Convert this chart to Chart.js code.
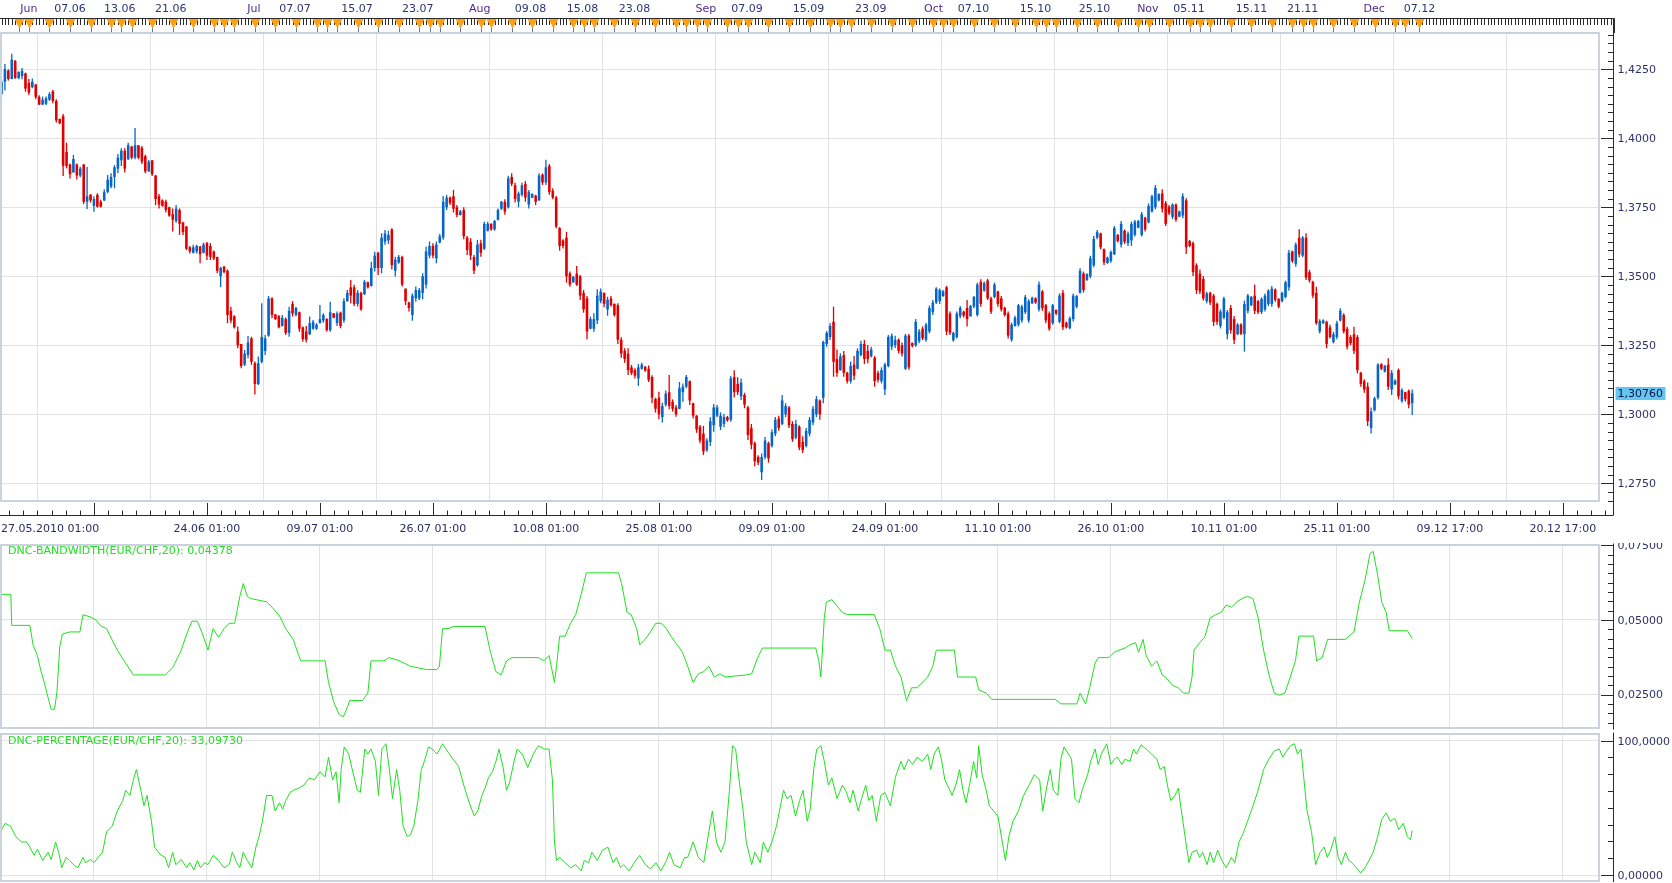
<!DOCTYPE html>
<html lang="de">
<head>
<meta charset="utf-8">
<title>EUR/CHF</title>
<script src="https://cdn.jsdelivr.net/npm/chart.js@4.4.1/dist/chart.umd.min.js"></script>
<style>
  html, body { margin: 0; padding: 0; background: #fff; }
  #wrap { position: relative; width: 1672px; height: 883px; overflow: hidden; }
  #wrap canvas { position: absolute; left: 0; }
</style>
</head>
<body>
<div id="wrap">
  <canvas id="chart-price" width="1672" height="543" style="top:0"></canvas>
  <canvas id="chart-bandwidth" width="1672" height="187" style="top:543px"></canvas>
  <canvas id="chart-percentage" width="1672" height="153" style="top:730px"></canvas>
</div>
<script>
// EUR/CHF, 8h bars, 27.05.2010 - 06.12.2010
const opens = [
  1.4160,1.4205,1.4245,1.4215,1.4280,1.4218,1.4225,1.4235,1.4200,1.4185,
  1.4195,1.4150,1.4122,1.4125,1.4140,1.4170,1.4135,1.4070,1.4080,1.3950,
  1.3905,1.3876,1.3905,1.3865,1.3905,1.3770,1.3795,1.3755,1.3795,1.3770,
  1.3775,1.3805,1.3825,1.3860,1.3890,1.3920,1.3955,1.3925,1.3970,1.3930,
  1.3975,1.3965,1.3935,1.3880,1.3920,1.3865,1.3790,1.3775,1.3770,1.3750,
  1.3725,1.3700,1.3740,1.3695,1.3680,1.3605,1.3585,1.3590,1.3608,1.3585,
  1.3620,1.3610,1.3590,1.3570,1.3500,1.3535,1.3520,1.3375,1.3355,1.3300,
  1.3255,1.3180,1.3215,1.3275,1.3185,1.3110,1.3190,1.3230,1.3285,1.3420,
  1.3362,1.3355,1.3320,1.3345,1.3295,1.3400,1.3360,1.3370,1.3315,1.3300,
  1.3290,1.3310,1.3310,1.3330,1.3340,1.3345,1.3305,1.3366,1.3330,1.3368,
  1.3340,1.3410,1.3460,1.3460,1.3400,1.3440,1.3435,1.3478,1.3465,1.3530,
  1.3585,1.3530,1.3625,1.3630,1.3670,1.3520,1.3550,1.3570,1.3455,1.3405,
  1.3360,1.3420,1.3420,1.3440,1.3470,1.3575,1.3610,1.3565,1.3622,1.3640,
  1.3750,1.3785,1.3790,1.3750,1.3722,1.3740,1.3640,1.3625,1.3570,1.3540,
  1.3620,1.3600,1.3665,1.3690,1.3670,1.3705,1.3745,1.3770,1.3750,1.3860,
  1.3830,1.3770,1.3795,1.3835,1.3760,1.3785,1.3792,1.3775,1.3868,1.3840,
  1.3900,1.3810,1.3785,1.3675,1.3630,1.3640,1.3510,1.3478,1.3510,1.3500,
  1.3440,1.3420,1.3310,1.3310,1.3340,1.3410,1.3440,1.3380,1.3420,1.3400,
  1.3395,1.3270,1.3230,1.3220,1.3170,1.3160,1.3130,1.3165,1.3172,1.3165,
  1.3135,1.3055,1.3060,1.2990,1.3035,1.3080,1.3045,1.3025,1.3020,1.3080,
  1.3100,1.3120,1.3040,1.2995,1.2955,1.2930,1.2870,1.2900,1.2960,1.2995,
  1.2955,1.2965,1.2990,1.2980,1.3135,1.3110,1.3065,1.3070,1.3025,1.2950,
  1.2895,1.2845,1.2790,1.2845,1.2895,1.2885,1.2930,1.2985,1.2965,1.3000,
  1.3025,1.2965,1.2915,1.2955,1.2900,1.2885,1.2930,1.2970,1.3000,1.3050,
  1.3060,1.3255,1.3280,1.3335,1.3200,1.3160,1.3215,1.3150,1.3120,1.3180,
  1.3165,1.3215,1.3255,1.3230,1.3210,1.3205,1.3150,1.3120,1.3090,1.3175,
  1.3245,1.3250,1.3270,1.3250,1.3165,1.3285,1.3258,1.3250,1.3265,1.3310,
  1.3270,1.3300,1.3370,1.3405,1.3410,1.3428,1.3460,1.3365,1.3268,1.3280,
  1.3355,1.3372,1.3385,1.3355,1.3390,1.3360,1.3480,1.3448,1.3485,1.3420,
  1.3425,1.3445,1.3420,1.3385,1.3365,1.3270,1.3320,1.3325,1.3340,1.3370,
  1.3340,1.3402,1.3420,1.3380,1.3445,1.3395,1.3365,1.3330,1.3378,1.3335,
  1.3440,1.3332,1.3312,1.3345,1.3390,1.3440,1.3510,1.3486,1.3500,1.3540,
  1.3640,1.3655,1.3598,1.3548,1.3555,1.3580,1.3650,1.3615,1.3665,1.3620,
  1.3630,1.3650,1.3676,1.3650,1.3712,1.3695,1.3735,1.3750,1.3775,1.3800,
  1.3765,1.3752,1.3715,1.3760,1.3716,1.3720,1.3775,1.3628,1.3620,1.3540,
  1.3510,1.3490,1.3410,1.3440,1.3430,1.3400,1.3320,1.3350,1.3290,1.3385,
  1.3345,1.3290,1.3325,1.3290,1.3375,1.3395,1.3430,1.3410,1.3370,1.3380,
  1.3400,1.3400,1.3452,1.3418,1.3410,1.3425,1.3460,1.3590,1.3545,1.3640,
  1.3575,1.3640,1.3515,1.3480,1.3440,1.3300,1.3330,1.3335,1.3315,1.3262,
  1.3280,1.3340,1.3360,1.3310,1.3280,1.3290,1.3280,1.3150,1.3120,1.3100,
  1.2950,1.3015,1.3060,1.3182,1.3155,1.3180,1.3090,1.3108,1.3160,1.3048,
  1.3080,1.3085,1.3040
];
const highs = [
  1.4214,1.4269,1.4250,1.4306,1.4284,1.4243,1.4255,1.4238,1.4215,1.4217,
  1.4197,1.4156,1.4151,1.4151,1.4167,1.4175,1.4141,1.4072,1.4088,1.3984,
  1.3909,1.3940,1.3909,1.3897,1.3907,1.3896,1.3798,1.3789,1.3801,1.3777,
  1.3815,1.3867,1.3873,1.3903,1.3943,1.3964,1.3964,1.3984,1.3972,1.4037,
  1.3975,1.3972,1.3940,1.3921,1.3921,1.3867,1.3798,1.3779,1.3777,1.3752,
  1.3746,1.3758,1.3746,1.3698,1.3682,1.3610,1.3614,1.3614,1.3610,1.3622,
  1.3624,1.3620,1.3593,1.3571,1.3535,1.3537,1.3525,1.3390,1.3359,1.3318,
  1.3255,1.3233,1.3284,1.3281,1.3191,1.3209,1.3402,1.3287,1.3429,1.3424,
  1.3363,1.3360,1.3360,1.3351,1.3390,1.3410,1.3390,1.3372,1.3318,1.3320,
  1.3354,1.3342,1.3330,1.3396,1.3366,1.3348,1.3408,1.3366,1.3372,1.3372,
  1.3420,1.3450,1.3487,1.3469,1.3450,1.3444,1.3487,1.3481,1.3553,1.3589,
  1.3589,1.3656,1.3668,1.3665,1.3674,1.3571,1.3577,1.3574,1.3456,1.3408,
  1.3438,1.3463,1.3458,1.3511,1.3607,1.3626,1.3620,1.3626,1.3653,1.3791,
  1.3795,1.3789,1.3813,1.3758,1.3740,1.3750,1.3646,1.3638,1.3577,1.3632,
  1.3632,1.3698,1.3698,1.3692,1.3704,1.3746,1.3773,1.3779,1.3864,1.3873,
  1.3839,1.3807,1.3839,1.3845,1.3813,1.3801,1.3795,1.3873,1.3873,1.3922,
  1.3907,1.3819,1.3791,1.3678,1.3634,1.3661,1.3517,1.3501,1.3537,1.3505,
  1.3450,1.3429,1.3354,1.3366,1.3453,1.3456,1.3441,1.3426,1.3429,1.3402,
  1.3402,1.3279,1.3239,1.3239,1.3179,1.3167,1.3182,1.3187,1.3175,1.3177,
  1.3141,1.3060,1.3082,1.3042,1.3086,1.3142,1.3054,1.3034,1.3117,1.3112,
  1.3142,1.3122,1.3042,1.2997,1.2961,1.2958,1.2913,1.2989,1.3037,1.3034,
  1.3007,1.3001,1.2994,1.3139,1.3160,1.3134,1.3130,1.3078,1.3030,1.2965,
  1.2901,1.2852,1.2858,1.2918,1.2901,1.2945,1.2990,1.2995,1.3070,1.3040,
  1.3030,1.2975,1.2980,1.2960,1.2920,1.2950,1.2990,1.3030,1.3066,1.3054,
  1.3266,1.3302,1.3330,1.3390,1.3235,1.3221,1.3229,1.3154,1.3191,1.3211,
  1.3239,1.3266,1.3269,1.3251,1.3245,1.3211,1.3158,1.3170,1.3187,1.3287,
  1.3293,1.3285,1.3275,1.3260,1.3291,1.3291,1.3260,1.3345,1.3309,1.3318,
  1.3332,1.3394,1.3414,1.3460,1.3456,1.3450,1.3465,1.3372,1.3299,1.3372,
  1.3392,1.3375,1.3414,1.3396,1.3429,1.3477,1.3489,1.3481,1.3491,1.3426,
  1.3477,1.3448,1.3429,1.3390,1.3372,1.3332,1.3357,1.3400,1.3397,1.3432,
  1.3417,1.3426,1.3424,1.3481,1.3450,1.3400,1.3372,1.3400,1.3380,1.3438,
  1.3450,1.3336,1.3354,1.3438,1.3432,1.3529,1.3517,1.3511,1.3574,1.3646,
  1.3668,1.3658,1.3601,1.3571,1.3593,1.3682,1.3653,1.3700,1.3670,1.3662,
  1.3698,1.3704,1.3704,1.3733,1.3716,1.3764,1.3795,1.3831,1.3801,1.3815,
  1.3773,1.3758,1.3764,1.3764,1.3738,1.3801,1.3783,1.3632,1.3626,1.3547,
  1.3525,1.3501,1.3444,1.3444,1.3436,1.3405,1.3380,1.3426,1.3378,1.3396,
  1.3356,1.3330,1.3330,1.3412,1.3436,1.3429,1.3469,1.3414,1.3424,1.3438,
  1.3453,1.3465,1.3456,1.3420,1.3444,1.3484,1.3595,1.3593,1.3622,1.3670,
  1.3646,1.3656,1.3523,1.3484,1.3462,1.3344,1.3344,1.3339,1.3324,1.3299,
  1.3339,1.3384,1.3366,1.3317,1.3287,1.3317,1.3287,1.3154,1.3127,1.3115,
  1.3025,1.3064,1.3185,1.3185,1.3179,1.3203,1.3160,1.3127,1.3166,1.3094,
  1.3082,1.3090,1.3090
];
const lows = [
  1.4149,1.4173,1.4209,1.4214,1.4216,1.4214,1.4214,1.4169,1.4157,1.4181,
  1.4141,1.4121,1.4121,1.4121,1.4136,1.4127,1.4057,1.4051,1.3863,1.3891,
  1.3854,1.3876,1.3851,1.3859,1.3762,1.3744,1.3767,1.3734,1.3749,1.3749,
  1.3773,1.3801,1.3819,1.3819,1.3873,1.3900,1.3876,1.3921,1.3924,1.3924,
  1.3924,1.3907,1.3873,1.3879,1.3863,1.3758,1.3746,1.3752,1.3731,1.3716,
  1.3662,1.3694,1.3650,1.3650,1.3595,1.3583,1.3583,1.3583,1.3547,1.3583,
  1.3559,1.3559,1.3559,1.3511,1.3461,1.3511,1.3330,1.3330,1.3311,1.3239,
  1.3167,1.3175,1.3203,1.3179,1.3072,1.3106,1.3185,1.3215,1.3281,1.3348,
  1.3342,1.3312,1.3318,1.3287,1.3281,1.3354,1.3354,1.3299,1.3263,1.3260,
  1.3287,1.3306,1.3306,1.3330,1.3332,1.3299,1.3299,1.3348,1.3320,1.3312,
  1.3332,1.3408,1.3402,1.3392,1.3390,1.3375,1.3432,1.3456,1.3463,1.3517,
  1.3505,1.3511,1.3614,1.3617,1.3525,1.3499,1.3545,1.3463,1.3396,1.3372,
  1.3339,1.3408,1.3414,1.3417,1.3456,1.3565,1.3565,1.3547,1.3620,1.3632,
  1.3740,1.3758,1.3731,1.3714,1.3720,1.3634,1.3577,1.3559,1.3508,1.3535,
  1.3571,1.3595,1.3662,1.3665,1.3665,1.3702,1.3740,1.3723,1.3746,1.3827,
  1.3767,1.3750,1.3789,1.3770,1.3746,1.3783,1.3758,1.3774,1.3831,1.3831,
  1.3795,1.3779,1.3674,1.3593,1.3601,1.3477,1.3462,1.3477,1.3465,1.3414,
  1.3368,1.3272,1.3308,1.3299,1.3327,1.3402,1.3388,1.3357,1.3390,1.3354,
  1.3255,1.3205,1.3187,1.3142,1.3142,1.3130,1.3103,1.3161,1.3154,1.3117,
  1.3040,1.3006,1.2982,1.2970,1.3028,1.3018,1.3010,1.2991,1.3018,1.3045,
  1.3094,1.3034,1.2985,1.2933,1.2895,1.2852,1.2864,1.2885,1.2937,1.2989,
  1.2943,1.2953,1.2973,1.2973,1.3061,1.3070,1.3052,1.3022,1.2907,1.2873,
  1.2812,1.2816,1.2762,1.2837,1.2825,1.2880,1.2920,1.2940,1.2960,1.2990,
  1.2950,1.2900,1.2910,1.2870,1.2860,1.2880,1.2920,1.2960,1.2990,1.2980,
  1.3040,1.3245,1.3269,1.3136,1.3136,1.3158,1.3136,1.3112,1.3112,1.3124,
  1.3163,1.3209,1.3182,1.3185,1.3206,1.3100,1.3115,1.3112,1.3070,1.3170,
  1.3233,1.3240,1.3221,1.3209,1.3161,1.3161,1.3243,1.3245,1.3257,1.3269,
  1.3263,1.3293,1.3360,1.3400,1.3400,1.3426,1.3287,1.3287,1.3263,1.3275,
  1.3348,1.3351,1.3318,1.3354,1.3384,1.3354,1.3390,1.3444,1.3414,1.3363,
  1.3420,1.3390,1.3372,1.3354,1.3275,1.3263,1.3318,1.3318,1.3332,1.3363,
  1.3332,1.3400,1.3400,1.3372,1.3375,1.3330,1.3303,1.3324,1.3360,1.3330,
  1.3305,1.3311,1.3308,1.3336,1.3384,1.3438,1.3441,1.3484,1.3493,1.3533,
  1.3634,1.3598,1.3541,1.3545,1.3549,1.3577,1.3622,1.3604,1.3617,1.3610,
  1.3610,1.3644,1.3674,1.3644,1.3662,1.3692,1.3731,1.3743,1.3771,1.3731,
  1.3682,1.3722,1.3707,1.3698,1.3714,1.3710,1.3581,1.3605,1.3501,1.3436,
  1.3436,1.3412,1.3402,1.3396,1.3320,1.3324,1.3311,1.3344,1.3272,1.3293,
  1.3255,1.3287,1.3287,1.3227,1.3366,1.3392,1.3363,1.3363,1.3363,1.3372,
  1.3392,1.3390,1.3408,1.3384,1.3405,1.3420,1.3448,1.3549,1.3535,1.3569,
  1.3569,1.3487,1.3477,1.3420,1.3324,1.3293,1.3327,1.3239,1.3275,1.3257,
  1.3272,1.3336,1.3293,1.3235,1.3251,1.3218,1.3148,1.3100,1.3078,1.2958,
  1.2930,1.3010,1.3054,1.3160,1.3151,1.3088,1.3070,1.3106,1.3054,1.3042,
  1.3046,1.3022,1.2997
];
const closes = [
  1.4205,1.4250,1.4215,1.4285,1.4218,1.4240,1.4245,1.4180,1.4165,1.4205,
  1.4150,1.4122,1.4140,1.4145,1.4160,1.4135,1.4065,1.4055,1.3900,1.3900,
  1.3870,1.3925,1.3865,1.3890,1.3770,1.3790,1.3775,1.3780,1.3752,1.3752,
  1.3805,1.3850,1.3860,1.3895,1.3930,1.3955,1.3890,1.3975,1.3930,1.3975,
  1.3930,1.3915,1.3880,1.3915,1.3870,1.3780,1.3760,1.3755,1.3740,1.3720,
  1.3705,1.3745,1.3690,1.3660,1.3600,1.3590,1.3605,1.3610,1.3580,1.3615,
  1.3575,1.3570,1.3565,1.3520,1.3530,1.3515,1.3360,1.3340,1.3315,1.3250,
  1.3175,1.3220,1.3260,1.3190,1.3110,1.3185,1.3280,1.3275,1.3420,1.3360,
  1.3345,1.3315,1.3350,1.3295,1.3375,1.3365,1.3385,1.3310,1.3272,1.3270,
  1.3330,1.3335,1.3325,1.3345,1.3360,1.3305,1.3370,1.3350,1.3365,1.3320,
  1.3410,1.3440,1.3430,1.3400,1.3440,1.3380,1.3480,1.3460,1.3530,1.3575,
  1.3530,1.3640,1.3655,1.3650,1.3540,1.3560,1.3570,1.3470,1.3410,1.3385,
  1.3430,1.3450,1.3450,1.3500,1.3590,1.3610,1.3575,1.3615,1.3645,1.3770,
  1.3785,1.3765,1.3745,1.3722,1.3735,1.3645,1.3595,1.3575,1.3520,1.3615,
  1.3585,1.3690,1.3690,1.3670,1.3700,1.3740,1.3770,1.3735,1.3855,1.3835,
  1.3780,1.3800,1.3830,1.3785,1.3805,1.3798,1.3770,1.3865,1.3840,1.3895,
  1.3805,1.3785,1.3680,1.3610,1.3610,1.3500,1.3470,1.3498,1.3470,1.3430,
  1.3380,1.3300,1.3345,1.3345,1.3430,1.3445,1.3400,1.3415,1.3395,1.3360,
  1.3270,1.3220,1.3200,1.3160,1.3150,1.3140,1.3170,1.3180,1.3158,1.3125,
  1.3060,1.3020,1.3000,1.3030,1.3075,1.3030,1.3020,1.3000,1.3095,1.3100,
  1.3135,1.3050,1.2995,1.2945,1.2905,1.2865,1.2905,1.2975,1.3025,1.3025,
  1.2995,1.2990,1.2978,1.3130,1.3080,1.3080,1.3115,1.3035,1.2925,1.2890,
  1.2830,1.2825,1.2845,1.2905,1.2840,1.2935,1.2980,1.2950,1.3050,1.3030,
  1.2960,1.2910,1.2965,1.2880,1.2870,1.2940,1.2980,1.3020,1.3055,1.3000,
  1.3262,1.3295,1.3320,1.3190,1.3150,1.3210,1.3150,1.3120,1.3175,1.3140,
  1.3230,1.3255,1.3200,1.3200,1.3235,1.3120,1.3125,1.3160,1.3180,1.3280,
  1.3285,1.3270,1.3230,1.3220,1.3285,1.3170,1.3248,1.3335,1.3300,1.3275,
  1.3325,1.3385,1.3405,1.3455,1.3450,1.3445,1.3300,1.3295,1.3295,1.3365,
  1.3385,1.3358,1.3345,1.3392,1.3425,1.3470,1.3400,1.3475,1.3420,1.3372,
  1.3470,1.3400,1.3380,1.3360,1.3285,1.3325,1.3350,1.3395,1.3390,1.3425,
  1.3410,1.3422,1.3405,1.3470,1.3385,1.3340,1.3310,1.3395,1.3365,1.3430,
  1.3315,1.3315,1.3348,1.3430,1.3428,1.3520,1.3450,1.3508,1.3565,1.3635,
  1.3660,1.3605,1.3550,1.3568,1.3588,1.3675,1.3628,1.3690,1.3625,1.3655,
  1.3690,1.3698,1.3700,1.3725,1.3670,1.3755,1.3790,1.3820,1.3798,1.3745,
  1.3690,1.3728,1.3760,1.3705,1.3735,1.3790,1.3605,1.3610,1.3515,1.3450,
  1.3445,1.3420,1.3438,1.3405,1.3335,1.3335,1.3372,1.3420,1.3370,1.3305,
  1.3270,1.3325,1.3292,1.3400,1.3430,1.3425,1.3375,1.3370,1.3418,1.3430,
  1.3448,1.3455,1.3415,1.3390,1.3440,1.3478,1.3585,1.3555,1.3615,1.3580,
  1.3640,1.3495,1.3485,1.3430,1.3330,1.3338,1.3340,1.3255,1.3280,1.3290,
  1.3330,1.3375,1.3300,1.3245,1.3258,1.3230,1.3160,1.3110,1.3090,1.2975,
  1.3010,1.3058,1.3180,1.3165,1.3175,1.3100,1.3150,1.3122,1.3065,1.3088,
  1.3055,1.3035,1.3076
];

// axis ticks and labels (bar index positions)
const priceTicks = [1.275, 1.300, 1.325, 1.350, 1.375, 1.400, 1.425];
const bandwidthTicks = [0.025, 0.050, 0.075];
const bandwidthTickLabels = ['0,02500', '0,05000', '0,07500'];
const percentTicks = [0, 100];
const percentTickLabels = ['0,00000', '100,0000'];
const gridBars = [27, 60, 93, 126, 159, 192, 225, 258, 291, 324, 357, 390, 423, 456];
const dateLabelBars = [0, 60, 93, 126, 159, 192, 225, 258, 291, 324, 357, 390, 423, 456];
const dateLabels = ['27.05.2010 01:00', '24.06 01:00', '09.07 01:00', '26.07 01:00', '10.08 01:00',
  '25.08 01:00', '09.09 01:00', '24.09 01:00', '11.10 01:00', '26.10 01:00', '10.11 01:00',
  '25.11 01:00', '09.12 17:00', '20.12 17:00'];
const topLabels = ['Jun', '07.06', '13.06', '21.06', 'Jul', '07.07', '15.07', '23.07', 'Aug', '09.08',
  '15.08', '23.08', 'Sep', '07.09', '15.09', '23.09', 'Oct', '07.10', '15.10', '25.10', 'Nov', '05.11',
  '15.11', '21.11', 'Dec', '07.12'];
const topLabelBars = [8, 20, 34.5, 49.4, 73.7, 85.7, 103.8, 121.6, 139.7, 154.5, 169.7, 184.9, 205.7,
  217.7, 235.7, 253.9, 272.2, 283.9, 302, 319.2, 334.8, 346.8, 365.1, 380, 400.9, 414.1];
const eventBars = [5, 8, 14, 20, 26, 32, 35, 38, 44, 50, 56, 62, 65, 68, 74, 80, 86, 92, 95, 98, 104,
  110, 116, 122, 125, 128, 134, 140, 143, 149, 155, 161, 167, 170, 173, 179, 185, 191, 197, 200, 203,
  206, 212, 215, 218, 224, 230, 236, 242, 245, 248, 254, 260, 266, 272, 275, 278, 284, 290, 296, 302,
  305, 308, 314, 320, 326, 332, 335, 341, 347, 350, 353, 359, 365, 371, 377, 380, 383, 389, 395, 401,
  407, 410, 414];

// indicators
const bandwidthTitle = 'DNC-BANDWIDTH(EUR/CHF,20): 0,04378';
const bwBars = [0, 2.7, 3, 8.3, 9.2, 10.5, 11.5, 12.5, 13.6, 14.5, 15.5, 16.2, 17, 17.8, 20, 22.9, 23.8,
  26, 27.6, 29, 30.7, 32, 33.8, 36, 38.5, 47.8, 50, 52.5, 54.1, 55.6, 57.2, 58.7, 60.3, 61.8, 63.4, 65,
  66.5, 68.1, 69.6, 70.6, 71.8, 72.7, 77.4, 79, 81.2, 83, 85.2, 86.8, 87.4, 94.5, 95.5, 97, 98.6, 99.8,
  100.8, 101.7, 105.4, 107, 107.9, 111.7, 113.2, 116.3, 119.4, 124.1, 127.2, 127.9, 128.8, 130.4, 131.9,
  141.2, 142.8, 144.4, 145.9, 147.5, 149, 156.8, 158.4, 159.9, 161.5, 162.1, 163, 164.6, 166.2, 167.7,
  169.3, 170.8, 180.2, 181.1, 182.7, 183.9, 185.5, 186.4, 188, 189.5, 191.1, 192.6, 194.2, 195.7, 198.9,
  200.4, 202, 203.5, 205.1, 206.6, 208.2, 209.8, 211.3, 217.5, 219.1, 220.7, 222.2, 237.8, 238.7, 239.3,
  240.3, 240.9, 242.5, 245.6, 247.1, 254.9, 256.5, 258, 259.6, 261.1, 262.7, 264.3, 265.8, 267.4, 268.9,
  270.5, 272, 273, 278.3, 279.2, 284.5, 285.4, 287.6, 289.2, 307.8, 309.4, 314.1, 315, 316.6, 317.8,
  319.4, 320.3, 323.4, 325, 326.5, 328.1, 329.6, 331.2, 332.1, 333.4, 334.3, 335.9, 337.4, 339, 340.5,
  342.1, 343.7, 345.2, 346.8, 347.7, 348.3, 349.9, 351.4, 353, 354.6, 356.1, 357.7, 359.2, 360.8, 362.3,
  363.9, 365.5, 367, 368.6, 370.1, 371.7, 373.2, 374.8, 376.4, 377.9, 378.9, 383.2, 384.1, 385.7, 387.3,
  392.5, 393.5, 395, 396.6, 398.2, 399.7, 400.6, 401.9, 403.1, 404.4, 405.3, 410.6, 412];
const bwValues = [0.0586, 0.0586, 0.0482, 0.0482, 0.0417, 0.0380, 0.0330, 0.0290, 0.0240, 0.0201, 0.0201,
  0.0260, 0.0410, 0.0453, 0.0460, 0.0460, 0.0518, 0.0510, 0.0500, 0.0480, 0.0471, 0.0440, 0.0400, 0.0360,
  0.0316, 0.0316, 0.0340, 0.0399, 0.0453, 0.0496, 0.0496, 0.0453, 0.0399, 0.0471, 0.0442, 0.0471, 0.0489,
  0.0489, 0.0579, 0.0622, 0.0579, 0.0572, 0.0561, 0.0543, 0.0514, 0.0471, 0.0435, 0.0381, 0.0363, 0.0363,
  0.0291, 0.0226, 0.0183, 0.0176, 0.0201, 0.0230, 0.0230, 0.0255, 0.0363, 0.0363, 0.0374, 0.0363, 0.0345,
  0.0334, 0.0334, 0.0345, 0.0471, 0.0471, 0.0478, 0.0478, 0.0392, 0.0327, 0.0316, 0.0363, 0.0374, 0.0374,
  0.0363, 0.0381, 0.0291, 0.0345, 0.0446, 0.0446, 0.0489, 0.0518, 0.0586, 0.0658, 0.0658, 0.0622, 0.0525,
  0.0518, 0.0471, 0.0417, 0.0435, 0.0460, 0.0489, 0.0489, 0.0471, 0.0442, 0.0392, 0.0345, 0.0291, 0.0320,
  0.0327, 0.0345, 0.0309, 0.0320, 0.0309, 0.0316, 0.0320, 0.0370, 0.0406, 0.0406, 0.0363, 0.0309, 0.0507,
  0.0561, 0.0568, 0.0525, 0.0518, 0.0518, 0.0471, 0.0399, 0.0399, 0.0345, 0.0309, 0.0230, 0.0273, 0.0273,
  0.0291, 0.0309, 0.0345, 0.0399, 0.0399, 0.0309, 0.0309, 0.0266, 0.0255, 0.0234, 0.0234, 0.0219, 0.0219,
  0.0255, 0.0219, 0.0273, 0.0356, 0.0374, 0.0374, 0.0392, 0.0399, 0.0406, 0.0417, 0.0424, 0.0392, 0.0435,
  0.0381, 0.0345, 0.0363, 0.0316, 0.0302, 0.0280, 0.0273, 0.0255, 0.0255, 0.0309, 0.0399, 0.0424, 0.0442,
  0.0507, 0.0518, 0.0525, 0.0550, 0.0543, 0.0561, 0.0572, 0.0579, 0.0572, 0.0507, 0.0399, 0.0320, 0.0255,
  0.0248, 0.0255, 0.0309, 0.0363, 0.0446, 0.0446, 0.0363, 0.0374, 0.0435, 0.0435, 0.0446, 0.0460, 0.0561,
  0.0633, 0.0723, 0.0730, 0.0651, 0.0561, 0.0525, 0.0464, 0.0464, 0.0438];

const percentTitle = 'DNC-PERCENTAGE(EUR/CHF,20): 33,09730';
const pctBars = [0, 1.1, 2.7, 4.2, 5.8, 7.3, 8.3, 9.5, 10.5, 12, 13.6, 14.5, 15.8, 16.7, 17.6, 18.9, 19.8,
  21.4, 22.3, 23.8, 24.5, 26, 27, 28.2, 29.5, 30.7, 32.3, 33.8, 35.4, 36.3, 37.5, 38.5, 39.4, 40.7, 41.6,
  42.5, 43.8, 44.7, 46.3, 47.8, 48.8, 50, 50.9, 52.5, 54.1, 55, 56.2, 57.2, 58.1, 59.3, 60.3, 61.8, 63.4,
  65, 66.5, 67.4, 68.7, 69.6, 70.6, 71.8, 73.1, 74.3, 75.2, 76.2, 77.4, 79, 79.9, 81.2, 82.1, 83, 84.3,
  85.2, 86.8, 88.3, 89.9, 91.4, 93, 94.5, 95.5, 96.7, 97.7, 98.6, 99.2, 100.1, 101.4, 102.3, 103.9, 104.8,
  106.1, 107, 107.9, 109.2, 110.1, 111.1, 112.3, 113.2, 114.2, 115.4, 116.3, 117.3, 118.5, 119.4, 120.4,
  121.6, 122.6, 123.5, 124.7, 125.7, 127.2, 128.8, 130.4, 131.9, 133.5, 135, 136.6, 138.1, 139.1, 140.3,
  141.2, 142.2, 143.4, 144.4, 145.3, 146.5, 147.5, 148.4, 149.7, 150.6, 152.1, 153.7, 155.3, 156.8, 158.4,
  159.9, 160.9, 161.5, 162.1, 163, 164.6, 166.2, 167.7, 169.3, 170.2, 171.5, 172.4, 174, 175.5, 177.1,
  178.6, 179.6, 180.8, 181.7, 183.3, 184.8, 186.4, 188, 189.5, 191.1, 192.6, 194.2, 195.1, 196.4, 198.2,
  199.5, 200.4, 202, 203.5, 205.1, 206.6, 207.6, 208.8, 210.1, 211.3, 212.6, 213.5, 214.4, 215.4, 216.6,
  217.5, 219.1, 220, 221.6, 222.5, 223.8, 225, 226.3, 227.2, 228.4, 229.4, 230.6, 231.9, 233.1, 234.1,
  235.3, 236.2, 237.2, 238.1, 239.3, 240.3, 241.5, 242.5, 244, 245.6, 246.5, 247.8, 248.7, 250.2, 251.2,
  252.4, 253.3, 254.3, 255.5, 256.8, 258, 259.6, 261.1, 262.7, 263.6, 264.9, 266.1, 267.4, 268.9, 270.5,
  271.4, 272.4, 273.6, 274.5, 275.5, 276.7, 277.6, 278.9, 279.8, 280.8, 281.7, 283, 283.9, 284.8, 285.4,
  286.4, 287.6, 288.5, 289.8, 291, 292.3, 293.2, 294.2, 295.4, 297, 298.5, 300.1, 301.6, 303.2, 304.1,
  305.1, 306.3, 307.2, 308.5, 309.4, 310.3, 311.6, 312.5, 313.5, 314.7, 315.6, 317.2, 318.1, 319.4, 320.3,
  321.2, 322.8, 324, 325, 325.9, 327.2, 328.1, 329.6, 330.6, 331.5, 332.8, 334.3, 335.9, 337.4, 338.4,
  339.6, 340.5, 341.5, 342.7, 343.7, 344.6, 345.9, 346.8, 347.7, 349, 349.9, 350.8, 352.1, 353, 354,
  355.2, 356.4, 357.7, 359.2, 360.2, 361.4, 362.6, 363.9, 365.5, 367, 368.6, 370.1, 371.7, 373.2, 374.2,
  375.1, 376.4, 377.6, 378.5, 379.5, 380.1, 381.3, 382.6, 383.8, 385.1, 386.3, 387.2, 388.2, 389.4, 390.4,
  391.3, 392.5, 393.5, 394.4, 395.7, 396.9, 398.2, 399.4, 400.6, 401.9, 403.1, 404.4, 405.6, 406.9, 408.1,
  409.4, 410.6, 411.5, 412];
const pctValues = [33.8, 38.5, 36.2, 28.5, 24.6, 24.6, 20.8, 14.6, 19.2, 10.8, 16.9, 11.5, 24.6, 16.9, 5.4,
  13.1, 10.8, 6.9, 5.4, 13.1, 9.2, 11.5, 9.2, 13.1, 16.9, 32.3, 36.2, 47.7, 55.4, 63.1, 59.2, 70.8, 78.5,
  63.1, 51.5, 59.2, 40, 20.8, 15.4, 13.1, 5.4, 16.9, 7.7, 11.5, 5.4, 9.2, 3.8, 10.8, 5.4, 9.2, 7.7, 14.6,
  10.8, 5.4, 7.7, 16.9, 9.2, 5.4, 16.9, 10.8, 5.4, 20.8, 28.5, 40, 59.2, 59.2, 47.7, 53.8, 49.2, 55.4,
  61.5, 63.1, 64.6, 66.9, 72.3, 70.8, 76.9, 73.1, 87.7, 70.8, 76.9, 53.8, 78.5, 95.4, 90, 80, 63.1, 61.5,
  93.8, 90, 93.8, 84.6, 59.2, 93.8, 97.7, 80, 56.9, 78.5, 63.1, 36.2, 28.5, 30, 36.2, 55.4, 78.5, 84.6,
  95.4, 93.8, 90, 97.7, 91.5, 86.2, 80.8, 66.9, 53.8, 43.8, 47.7, 59.2, 64.6, 72.3, 76.9, 84.6, 93.8, 80,
  63.1, 69.2, 84.6, 93.8, 90, 80, 90, 96.2, 93.8, 93.8, 70.8, 24.6, 10.8, 13.1, 9.2, 5.4, 7.7, 3.1, 10.8,
  9.2, 16.9, 10.8, 18.5, 20.8, 9.2, 13.1, 5.4, 7.7, 3.1, 9.2, 14.6, 7.7, 4.6, 9.2, 3.1, 10.8, 16.9, 7.7,
  5.4, 13.1, 13.1, 24.6, 13.1, 9.2, 32.3, 47.7, 24.6, 16.9, 24.6, 63.1, 96.2, 93.8, 70.8, 47.7, 24.6, 7.7,
  16.9, 9.2, 24.6, 16.9, 24.6, 36.2, 47.7, 63.1, 56.9, 59.2, 43.8, 55.4, 63.1, 40, 49.2, 78.5, 93.8, 96.2,
  84.6, 66.9, 72.3, 56.9, 66.9, 63.1, 53.8, 63.1, 47.7, 56.9, 66.9, 55.4, 59.2, 40, 59.2, 61.5, 51.5,
  73.1, 84.6, 78.5, 86.2, 82.3, 87.7, 84.6, 90, 78.5, 90, 95.4, 86.2, 70.8, 64.6, 59.2, 68.5, 78.5, 63.1,
  53.8, 70.8, 84.6, 72.3, 96.2, 74.6, 63.1, 51.5, 47.7, 43.8, 24.6, 10.8, 28.5, 40, 47.7, 59.2, 66.9,
  74.6, 70.8, 47.7, 63.1, 78.5, 63.1, 59.2, 86.2, 95.4, 90, 86.2, 56.9, 53.8, 63.1, 74.6, 84.6, 93.8,
  82.3, 90, 97.7, 82.3, 86.2, 87.7, 82.3, 86.2, 84.6, 93.8, 90, 96.9, 93.8, 90, 86.2, 78.5, 80.8, 66.9,
  55.4, 59.2, 64.6, 47.7, 24.6, 9.2, 16.9, 18.5, 13.1, 16.9, 7.7, 16.9, 9.2, 18.5, 10.8, 5.4, 13.1, 9.2,
  24.6, 30.8, 40, 51.5, 63.1, 78.5, 86.2, 92.3, 93.8, 87.7, 91.5, 96.2, 97.7, 90, 93.8, 78.5, 47.7, 32.3,
  7.7, 16.9, 20.8, 13.1, 18.5, 28.5, 13.1, 7.7, 16.9, 10.8, 9.2, 5.4, 1.5, 5.4, 10.8, 16.9, 28.5, 41.5,
  46.2, 40, 42.3, 33.8, 38.5, 28.5, 26.2, 33.1];

const FONT = '11px "DejaVu Sans", Verdana, sans-serif';
const UP_COLOR = '#0766c6';
const DOWN_COLOR = '#e00000';
const LINE_GREEN = '#1fe01f';
const GRID_COLOR = '#e2e2e2';
const X_MIN = -0.44, X_MAX = 466.85;

function line(ctx, x1, y1, x2, y2) {
  ctx.beginPath();
  ctx.moveTo(x1, y1);
  ctx.lineTo(x2, y2);
  ctx.stroke();
}

function commaFix(v, digits) {
  return v.toFixed(digits).replace('.', ',');
}

function makeXScale() {
  return {
    type: 'linear', min: X_MIN, max: X_MAX, offset: false,
    ticks: { display: false },
    grid: { color: GRID_COLOR, drawTicks: false },
    border: { display: false },
    afterBuildTicks: (s) => { s.ticks = gridBars.map(v => ({ value: v })); },
    afterFit: (s) => { s.height = 0; }
  };
}

function makeYScale(min, max, values) {
  return {
    type: 'linear', position: 'right', min: min, max: max,
    ticks: { display: false },
    grid: { color: GRID_COLOR, drawTicks: false },
    border: { display: false },
    afterBuildTicks: (s) => { s.ticks = values.map(v => ({ value: v })); },
    afterFit: (s) => { s.width = 0; }
  };
}

// frame, right axis ruler, tick labels, indicator title
function panelPlugin(cfg) {
  return {
    id: 'panelFrame',
    afterDraw(chart) {
      var ctx = chart.ctx, a = chart.chartArea, ys = chart.scales.y;
      var ax = a.right + 13.5;
      ctx.save();
      ctx.strokeStyle = '#cad2dd';
      ctx.lineWidth = 2;
      ctx.strokeRect(a.left + 1, a.top + 1, a.right - a.left - 2, a.bottom - a.top - 2);

      ctx.strokeStyle = '#2b2b2b';
      ctx.lineWidth = 1;
      line(ctx, ax, cfg.axisTop, ax, cfg.axisBottom);
      var ticks = cfg.ticks;
      var step = (ticks[1] - ticks[0]) / 8;
      for (var k = -8; k < 200; k++) {
        var v = ticks[0] + k * step;
        if (v > ys.max) break;
        if (v < ys.min) continue;
        var py = Math.round(ys.getPixelForValue(v)) + 0.5;
        var major = (k % 8 === 0);
        line(ctx, major ? a.right + 1 : a.right + 8, py, ax, py);
      }
      ctx.font = FONT;
      ctx.textAlign = 'left';
      ctx.textBaseline = 'middle';
      ctx.fillStyle = '#2f3268';
      ticks.forEach((t, i) => ctx.fillText(cfg.labels[i], ax + 4, ys.getPixelForValue(t) + 1));

      if (cfg.title) {
        ctx.fillStyle = LINE_GREEN;
        ctx.fillText(cfg.title, 8, cfg.titleY);
      }
      if (cfg.tag !== undefined) {
        var ty = Math.round(ys.getPixelForValue(cfg.tag));
        ctx.fillStyle = '#62c6f4';
        ctx.fillRect(ax + 2, ty - 6, 50, 13);
        ctx.fillStyle = '#14143c';
        ctx.fillText(commaFix(cfg.tag, 5), ax + 4, ty + 1);
      }
      ctx.restore();
    }
  };
}

// top event timeline and bottom date ruler
const timelinePlugin = {
  id: 'timeline',
  afterDraw(chart) {
    var ctx = chart.ctx, xs = chart.scales.x, a = chart.chartArea;
    var ax = a.right + 13.5;
    ctx.save();
    ctx.lineWidth = 1;
    ctx.strokeStyle = '#2b2b2b';
    line(ctx, 0, 18.5, ax + 1, 18.5);
    line(ctx, ax + 1, 18.5, ax + 1, a.top + 1);
    for (var i = 0; i < 600; i++) {
      var px = Math.round(xs.getPixelForValue(i)) + 0.5;
      if (px > ax - 1) break;
      line(ctx, px, 19, px, 25);
    }
    eventBars.forEach(b => {
      var ex = Math.round(xs.getPixelForValue(b)) + 0.5;
      ctx.strokeStyle = '#6f7b92';
      line(ctx, ex, 26, ex, a.top);
      ctx.fillStyle = '#ff9f12';
      ctx.beginPath();
      ctx.moveTo(ex - 5, 19);
      ctx.lineTo(ex + 5, 19);
      ctx.lineTo(ex, 28.5);
      ctx.closePath();
      ctx.fill();
    });
    ctx.font = FONT;
    ctx.textAlign = 'center';
    ctx.textBaseline = 'middle';
    topLabels.forEach((t, i) => {
      ctx.fillStyle = /^[A-Z]/.test(t) ? '#4d2a8e' : '#2c3676';
      ctx.fillText(t, xs.getPixelForValue(topLabelBars[i]), 9);
    });

    // bottom ruler
    ctx.strokeStyle = '#2b2b2b';
    var rulerY = a.bottom + 13.5;
    line(ctx, 0, rulerY, ax, rulerY);
    var sub = (gridBars[1] - gridBars[0]) / 8;
    for (var k = -8; k < 200; k++) {
      var v = gridBars[0] + k * sub;
      var tx = Math.round(xs.getPixelForValue(v)) + 0.5;
      if (tx < 0) continue;
      if (tx > ax) break;
      line(ctx, tx, (k % 8 === 0) ? a.bottom + 1 : rulerY - 5, tx, rulerY);
    }
    ctx.fillStyle = '#2c2c66';
    dateLabels.forEach((t, i) => {
      if (i === 0) {
        ctx.textAlign = 'left';
        ctx.fillText(t, 1, rulerY + 14);
      } else {
        ctx.textAlign = 'center';
        ctx.fillText(t, xs.getPixelForValue(dateLabelBars[i]), rulerY + 14);
      }
    });
    ctx.restore();
  }
};

const baseOptions = {
  responsive: false,
  animation: false,
  devicePixelRatio: 1,
  events: [],
  plugins: { legend: { display: false }, tooltip: { enabled: false } }
};

function createPriceChart() {
  var barColors = closes.map((c, i) => c >= opens[i] ? UP_COLOR : DOWN_COLOR);
  var ctx = document.getElementById('chart-price').getContext('2d');
  new Chart(ctx, {
    type: 'bar',
    data: {
      datasets: [
        {
          data: highs.map((h, i) => ({ x: i, y: [lows[i], h] })),
          backgroundColor: barColors,
          barThickness: 1.3,
          grouped: false,
          borderWidth: 0,
          inflateAmount: 0
        },
        {
          data: opens.map((o, i) => ({ x: i, y: [o, closes[i]] })),
          backgroundColor: barColors,
          barThickness: 2.6,
          grouped: false,
          borderWidth: 0,
          inflateAmount: 0,
          minBarLength: 1
        }
      ]
    },
    options: Object.assign({}, baseOptions, {
      layout: { padding: { left: 0, right: 72, top: 32, bottom: 41 } },
      scales: {
        x: makeXScale(),
        y: makeYScale(1.26822, 1.43851, priceTicks)
      }
    }),
    plugins: [
      timelinePlugin,
      panelPlugin({
        ticks: priceTicks,
        labels: priceTicks.map(v => commaFix(v, 4)),
        axisTop: 18.5,
        axisBottom: 515.5,
        tag: closes[closes.length - 1]
      })
    ]
  });
}

function createIndicatorChart(id, xs, values, yMin, yMax, ticks, labels, title, pad, titleY, axisTop, axisBottom) {
  var ctx = document.getElementById(id).getContext('2d');
  new Chart(ctx, {
    type: 'line',
    data: {
      datasets: [{
        data: xs.map((b, i) => ({ x: b, y: values[i] })),
        borderColor: LINE_GREEN,
        borderWidth: 1,
        pointRadius: 0,
        tension: 0,
        fill: false
      }]
    },
    options: Object.assign({}, baseOptions, {
      layout: { padding: { left: 0, right: 72, top: pad[0], bottom: pad[1] } },
      scales: {
        x: makeXScale(),
        y: makeYScale(yMin, yMax, ticks)
      }
    }),
    plugins: [
      panelPlugin({
        ticks: ticks,
        labels: labels,
        axisTop: axisTop,
        axisBottom: axisBottom,
        title: title,
        titleY: titleY
      })
    ]
  });
}

createPriceChart();
createIndicatorChart('chart-bandwidth', bwBars, bwValues, 0.01348, 0.07546, bandwidthTicks,
  bandwidthTickLabels, bandwidthTitle, [1, 1], 8, 0.5, 186.5);
createIndicatorChart('chart-percentage', pctBars, pctValues, -5.2, 105.7, percentTicks,
  percentTickLabels, percentTitle, [3, 1], 11, 2.5, 152);
</script>
</body>
</html>
